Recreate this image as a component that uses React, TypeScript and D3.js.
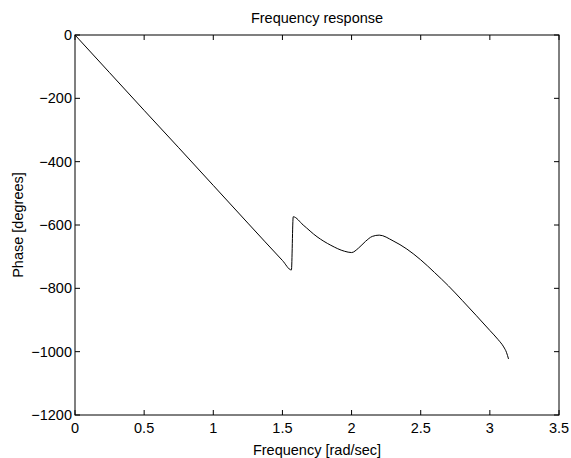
import React from "react";
import * as d3 from "d3";

const freq = [0, 0.25, 0.5, 0.75, 1.0, 1.25, 1.5, 1.565, 1.578, 1.65, 1.75, 1.85, 1.95, 2.0, 2.05, 2.1, 2.15, 2.2, 2.3, 2.4, 2.5, 2.6, 2.7, 2.8, 2.9, 3.0, 3.06, 3.1, 3.12, 3.135];
const phase = [0, -119, -238, -356, -475, -594, -712, -742, -574, -600, -637, -664, -683, -687, -673, -652, -636, -632, -650, -676, -710, -750, -792, -838, -885, -933, -962, -985, -1002, -1023];
const xTicks = [0, 0.5, 1, 1.5, 2, 2.5, 3, 3.5];
const yTicks = [0, -200, -400, -600, -800, -1000, -1200];

const W = 571, H = 458;
const left = 75, right = 559, top = 35, bottom = 415;
const FONT = "'Liberation Sans', Arial, Helvetica, sans-serif";
const FS = 14.5;

const fmt = (v: number) => (v < 0 ? "\u2212" + String(-v) : String(v));

export default function App() {
  const x = d3.scaleLinear().domain([0, 3.5]).range([left, right]);
  const y = d3.scaleLinear().domain([-1200, 0]).range([bottom, top]);
  const pts: [number, number][] = freq.map((f, i) => [f, phase[i]]);
  const line = d3
    .line<[number, number]>()
    .x((d) => x(d[0]))
    .y((d) => y(d[1]))
    .curve(d3.curveMonotoneX);
  const tl = 5;
  return (
    <svg width={W} height={H} style={{ position: "absolute", left: 0, top: 0, background: "#fff" }} fontFamily={FONT}>
      <rect x={0} y={0} width={W} height={H} fill="#fff" />
      <path d={line(pts) || ""} fill="none" stroke="#000" strokeWidth={1} />
      {xTicks.map((t) => (
        <g key={"x" + t}>
          <line x1={x(t)} x2={x(t)} y1={bottom} y2={bottom - tl} stroke="#000" />
          <line x1={x(t)} x2={x(t)} y1={top} y2={top + tl} stroke="#000" />
          <text x={x(t)} y={bottom + 13} textAnchor="middle" dominantBaseline="central" fontSize={FS}>{fmt(t)}</text>
        </g>
      ))}
      {yTicks.map((t) => (
        <g key={"y" + t}>
          <line x1={left} x2={left + tl} y1={y(t)} y2={y(t)} stroke="#000" />
          <line x1={right} x2={right - tl} y1={y(t)} y2={y(t)} stroke="#000" />
          <text x={left - 3} y={y(t)} textAnchor="end" dominantBaseline="central" fontSize={FS}>{fmt(t)}</text>
        </g>
      ))}
      <rect x={left} y={top} width={right - left} height={bottom - top} fill="none" stroke="#000" strokeWidth={1} />
      <text x={(left + right) / 2} y={18} textAnchor="middle" dominantBaseline="central" fontSize={FS}>Frequency response</text>
      <text x={(left + right) / 2} y={450} textAnchor="middle" dominantBaseline="central" fontSize={FS}>Frequency [rad/sec]</text>
      <text transform={`translate(18, ${(top + bottom) / 2}) rotate(-90)`} textAnchor="middle" dominantBaseline="central" fontSize={FS}>Phase [degrees]</text>
    </svg>
  );
}
